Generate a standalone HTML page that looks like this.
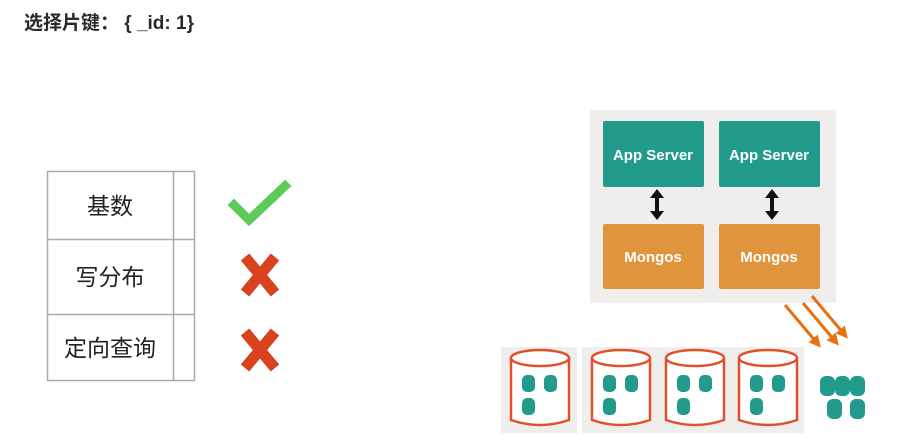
<!DOCTYPE html>
<html><head><meta charset="utf-8"><style>
body{margin:0;width:898px;height:445px;background:#fff;overflow:hidden;position:relative;font-family:"Liberation Sans","Noto Sans CJK SC",sans-serif}
.t{position:absolute;left:24px;top:8px;font-size:19px;font-weight:bold;color:#2a2a2a}
</style></head><body>
<div class="t">选择片键： { _id: 1}</div>
<svg width="898" height="445" style="position:absolute;left:0;top:0">
<defs>
<g id="cyl">
<path d="M0,8 L0,70 Q29,80 58,70 L58,8" fill="#fff" stroke="#e0502a" stroke-width="2.5"/>
<ellipse cx="29" cy="8" rx="29" ry="8" fill="#fff" stroke="#e0502a" stroke-width="2.5"/>
<rect x="11" y="25" width="13" height="17" rx="5" fill="#229a8c"/>
<rect x="33" y="25" width="13" height="17" rx="5" fill="#229a8c"/>
<rect x="11" y="48" width="13" height="17" rx="5" fill="#229a8c"/>
</g>
<marker id="oa" markerWidth="4" markerHeight="4" refX="2" refY="2" orient="auto"><path d="M0,0 L4,2 L0,4 z" fill="#e8700f"/></marker>
</defs>
<g stroke="#aaa" stroke-width="1.5" fill="none">
<rect x="47.5" y="171.5" width="147" height="209"/>
<line x1="173.5" y1="171" x2="173.5" y2="381"/>
<line x1="47" y1="239.5" x2="195" y2="239.5"/>
<line x1="47" y1="314.5" x2="195" y2="314.5"/>
</g>
<g font-size="23" fill="#222" text-anchor="middle" font-family="Noto Sans CJK SC,sans-serif">
<text x="110" y="214">基数</text>
<text x="110" y="285">写分布</text>
<text x="110" y="356">定向查询</text>
</g>
<path d="M234,205 L249,220 L285,186" stroke="#5ccb5c" stroke-width="9" fill="none" stroke-linecap="square"/>
<g stroke="#d9421e" stroke-width="11">
<line x1="245" y1="257" x2="275" y2="293"/><line x1="275" y1="257" x2="245" y2="293"/>
<line x1="245" y1="332" x2="275" y2="368"/><line x1="275" y1="332" x2="245" y2="368"/>
</g>
<rect x="590" y="110" width="246" height="193" fill="#efeeed"/>
<rect x="603" y="121" width="101" height="66" rx="2" fill="#229a8c"/>
<rect x="719" y="121" width="101" height="66" rx="2" fill="#229a8c"/>
<rect x="603" y="224" width="101" height="65" rx="2" fill="#e0953c"/>
<rect x="719" y="224" width="101" height="65" rx="2" fill="#e0953c"/>
<g fill="#fff" font-size="15" font-weight="bold" text-anchor="middle">
<text x="653" y="160">App Server</text><text x="769" y="160">App Server</text>
<text x="653" y="262">Mongos</text><text x="769" y="262">Mongos</text>
</g>
<g fill="#111">
<path d="M657,189 L664,198 L659,198 L659,211 L664,211 L657,220 L650,211 L655,211 L655,198 L650,198z"/>
<path d="M772,189 L779,198 L774,198 L774,211 L779,211 L772,220 L765,211 L770,211 L770,198 L765,198z"/>
</g>
<g stroke="#e8700f" stroke-width="3" marker-end="url(#oa)">
<line x1="785" y1="305" x2="817" y2="343"/>
<line x1="803" y1="303" x2="835" y2="341"/>
<line x1="812" y1="296" x2="844" y2="334"/>
</g>
<rect x="501" y="347" width="76" height="86" fill="#efeeed"/>
<rect x="582" y="347" width="222" height="86" fill="#efeeed"/>
<use href="#cyl" x="511" y="350"/>
<use href="#cyl" x="592" y="350"/>
<use href="#cyl" x="666" y="350"/>
<use href="#cyl" x="739" y="350"/>
<g fill="#229a8c">
<rect x="820" y="376" width="15" height="20" rx="6"/>
<rect x="835" y="376" width="15" height="20" rx="6"/>
<rect x="850" y="376" width="15" height="20" rx="6"/>
<rect x="827" y="399" width="15" height="20" rx="6"/>
<rect x="850" y="399" width="15" height="20" rx="6"/>
</g>
</svg>
</body></html>
